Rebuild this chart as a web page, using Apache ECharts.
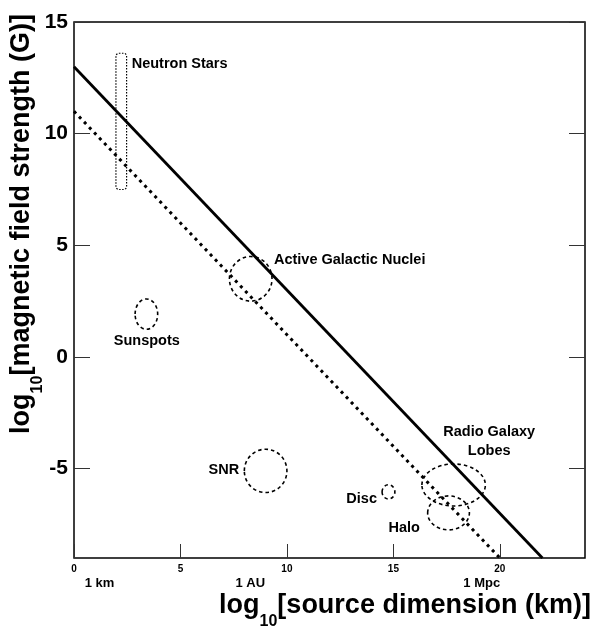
<!DOCTYPE html>
<html>
<head>
<meta charset="utf-8">
<script src="https://cdn.jsdelivr.net/npm/echarts@6/dist/echarts.min.js"></script>
<style>
  html, body { margin: 0; padding: 0; background: #fff; }
  #chart { width: 593px; height: 628px; }
</style>
</head>
<body>
<div id="chart"></div>
<script>
// Axis ticks
const xTickValues = [0, 5, 10, 15, 20];
const yTickValues = [-5, 0, 5, 10, 15];

// Physical scale marks under the x axis
const scaleMarkPositions = [1.2, 8.28, 19.15];
const scaleMarkNames = ['1 km', '1 AU', '1 Mpc'];

// Hillas condition lines: log10(B) vs log10(size)
const upperLineX = [0, 22];
const upperLineY = [13, -9];
const lowerLineX = [0, 20];
const lowerLineY = [11, -9];

// Source regions drawn as ellipses (centre and half-extents, in log10 units)
const regionNames = ['Active Galactic Nuclei', 'Sunspots', 'SNR', 'Disc', 'Radio Galaxy Lobes', 'Halo'];
const regionCenterX = [8.3, 3.4, 9.0, 14.77, 17.83, 17.59];
const regionCenterY = [3.5, 1.92, -5.1, -6.04, -5.73, -6.98];
const regionHalfWidth = [1.0, 0.53, 1.0, 0.3, 1.49, 0.98];
const regionHalfHeight = [1.0, 0.68, 0.97, 0.32, 0.94, 0.76];

// Neutron star band (size range, field range)
const neutronStarX = [1.97, 2.47];
const neutronStarY = [7.5, 13.6];

// Region labels (anchor point in data units)
const labelTexts = ['Neutron Stars', 'Active Galactic Nuclei', 'Sunspots', 'SNR', 'Disc', 'Halo', 'Radio Galaxy\nLobes'];
const labelX = [2.71, 9.39, 3.42, 7.76, 13.51, 15.51, 19.5];
const labelY = [13.14, 4.34, 0.71, -5.05, -6.36, -7.67, -3.8];

const FONT = '"Liberation Sans", Arial, Helvetica, sans-serif';
const labelAnchors = ['left', 'left', 'center', 'right', 'center', 'center', 'center'];

const chart = echarts.init(document.getElementById('chart'), null, { renderer: 'canvas' });

const tickStyle = { color: '#333', width: 1 };
const subStyle = { fontSize: 16, fontWeight: 'bold', fontFamily: FONT, lineHeight: 16, verticalAlign: 'bottom', fill: '#000' };

const option = {
  animation: false,
  backgroundColor: '#fff',
  grid: {
    left: 74, right: 8, top: 22, bottom: 70,
    show: true, borderColor: '#000', borderWidth: 1.5,
    backgroundColor: 'transparent', containLabel: false
  },
  xAxis: [{
    type: 'value', min: 0, max: 24,
    axisLine: { show: false, onZero: false },
    splitLine: { show: false },
    axisTick: { inside: true, length: 14, customValues: xTickValues, lineStyle: tickStyle },
    axisLabel: {
      customValues: xTickValues, margin: 6,
      fontSize: 10, fontWeight: 'bold', fontFamily: FONT, color: '#000'
    }
  }],
  yAxis: [{
    type: 'value', min: -9, max: 15, position: 'left',
    axisLine: { show: false, onZero: false },
    splitLine: { show: false },
    axisTick: { inside: true, length: 16, customValues: yTickValues, lineStyle: tickStyle },
    axisLabel: {
      customValues: yTickValues, margin: 6,
      fontSize: 21, fontWeight: 'bold', fontFamily: FONT, color: '#000'
    }
  }, {
    type: 'value', min: -9, max: 15, position: 'right',
    axisLine: { show: false, onZero: false },
    splitLine: { show: false },
    axisTick: { inside: true, length: 16, customValues: yTickValues, lineStyle: tickStyle },
    axisLabel: { show: false }
  }],
  graphic: [{
    type: 'text', x: 405, y: 606,
    style: {
      text: 'log{sub|10}[source dimension (km)]',
      fontSize: 27, fontWeight: 'bold', fontFamily: FONT, fill: '#000',
      lineHeight: 48, align: 'center', verticalAlign: 'middle',
      rich: { sub: subStyle }
    }
  }, {
    type: 'text', x: 22, y: 224, rotation: Math.PI / 2,
    style: {
      text: 'log{sub|10}[magnetic field strength (G)]',
      fontSize: 27, fontWeight: 'bold', fontFamily: FONT, fill: '#000',
      lineHeight: 48, align: 'center', verticalAlign: 'middle',
      rich: { sub: subStyle }
    }
  }],
  series: [{
    name: 'upper',
    type: 'line',
    data: upperLineX.map((x, i) => [x, upperLineY[i]]),
    symbol: 'none',
    lineStyle: { color: '#000', width: 2.8 },
    z: 3
  }, {
    name: 'lower',
    type: 'line',
    data: lowerLineX.map((x, i) => [x, lowerLineY[i]]),
    symbol: 'none',
    lineStyle: { color: '#000', width: 3, type: [3, 4.3], cap: 'butt' },
    z: 3
  }, {
    name: 'regions',
    type: 'custom',
    coordinateSystem: 'cartesian2d',
    data: regionNames.map((n, i) => [regionCenterX[i], regionCenterY[i], regionHalfWidth[i], regionHalfHeight[i]]),
    renderItem: function (params, api) {
      const c = api.coord([api.value(0), api.value(1)]);
      const s = api.size([api.value(2), api.value(3)], [api.value(0), api.value(1)]);
      return {
        type: 'ellipse',
        shape: { cx: c[0], cy: c[1], rx: s[0], ry: s[1] },
        style: { fill: 'none', stroke: '#000', lineWidth: 1.6, lineDash: [3.5, 3] }
      };
    },
    z: 4
  }, {
    name: 'neutron stars',
    type: 'custom',
    coordinateSystem: 'cartesian2d',
    data: [[neutronStarX[0], neutronStarY[1], neutronStarX[1], neutronStarY[0]]],
    renderItem: function (params, api) {
      const p0 = api.coord([api.value(0), api.value(1)]);
      const p1 = api.coord([api.value(2), api.value(3)]);
      return {
        type: 'rect',
        shape: { x: p0[0], y: p0[1], width: p1[0] - p0[0], height: p1[1] - p0[1], r: 3 },
        style: { fill: 'none', stroke: '#000', lineWidth: 1.2, lineDash: [1.5, 1.5] }
      };
    },
    z: 4
  }, {
    name: 'labels',
    type: 'custom',
    coordinateSystem: 'cartesian2d',
    data: labelTexts.map((t, i) => [labelX[i], labelY[i], i]),
    renderItem: function (params, api) {
      const i = api.value(2);
      const p = api.coord([api.value(0), api.value(1)]);
      return {
        type: 'text',
        x: p[0], y: p[1],
        style: {
          text: labelTexts[i], fill: '#000',
          fontSize: 14.5, fontWeight: 'bold', fontFamily: FONT,
          lineHeight: 19, align: labelAnchors[i], verticalAlign: 'middle'
        }
      };
    },
    z: 5
  }, {
    name: 'scale marks',
    type: 'custom',
    coordinateSystem: 'cartesian2d',
    clip: false,
    data: scaleMarkPositions.map((x, i) => [x, -9, i]),
    renderItem: function (params, api) {
      const i = api.value(2);
      const p = api.coord([api.value(0), api.value(1)]);
      return {
        type: 'text',
        x: p[0], y: p[1] + 25,
        style: {
          text: scaleMarkNames[i], fill: '#000',
          fontSize: 13, fontWeight: 'bold', fontFamily: FONT,
          align: 'center', verticalAlign: 'middle'
        }
      };
    },
    z: 5
  }]
};

chart.setOption(option);
</script>
</body>
</html>
